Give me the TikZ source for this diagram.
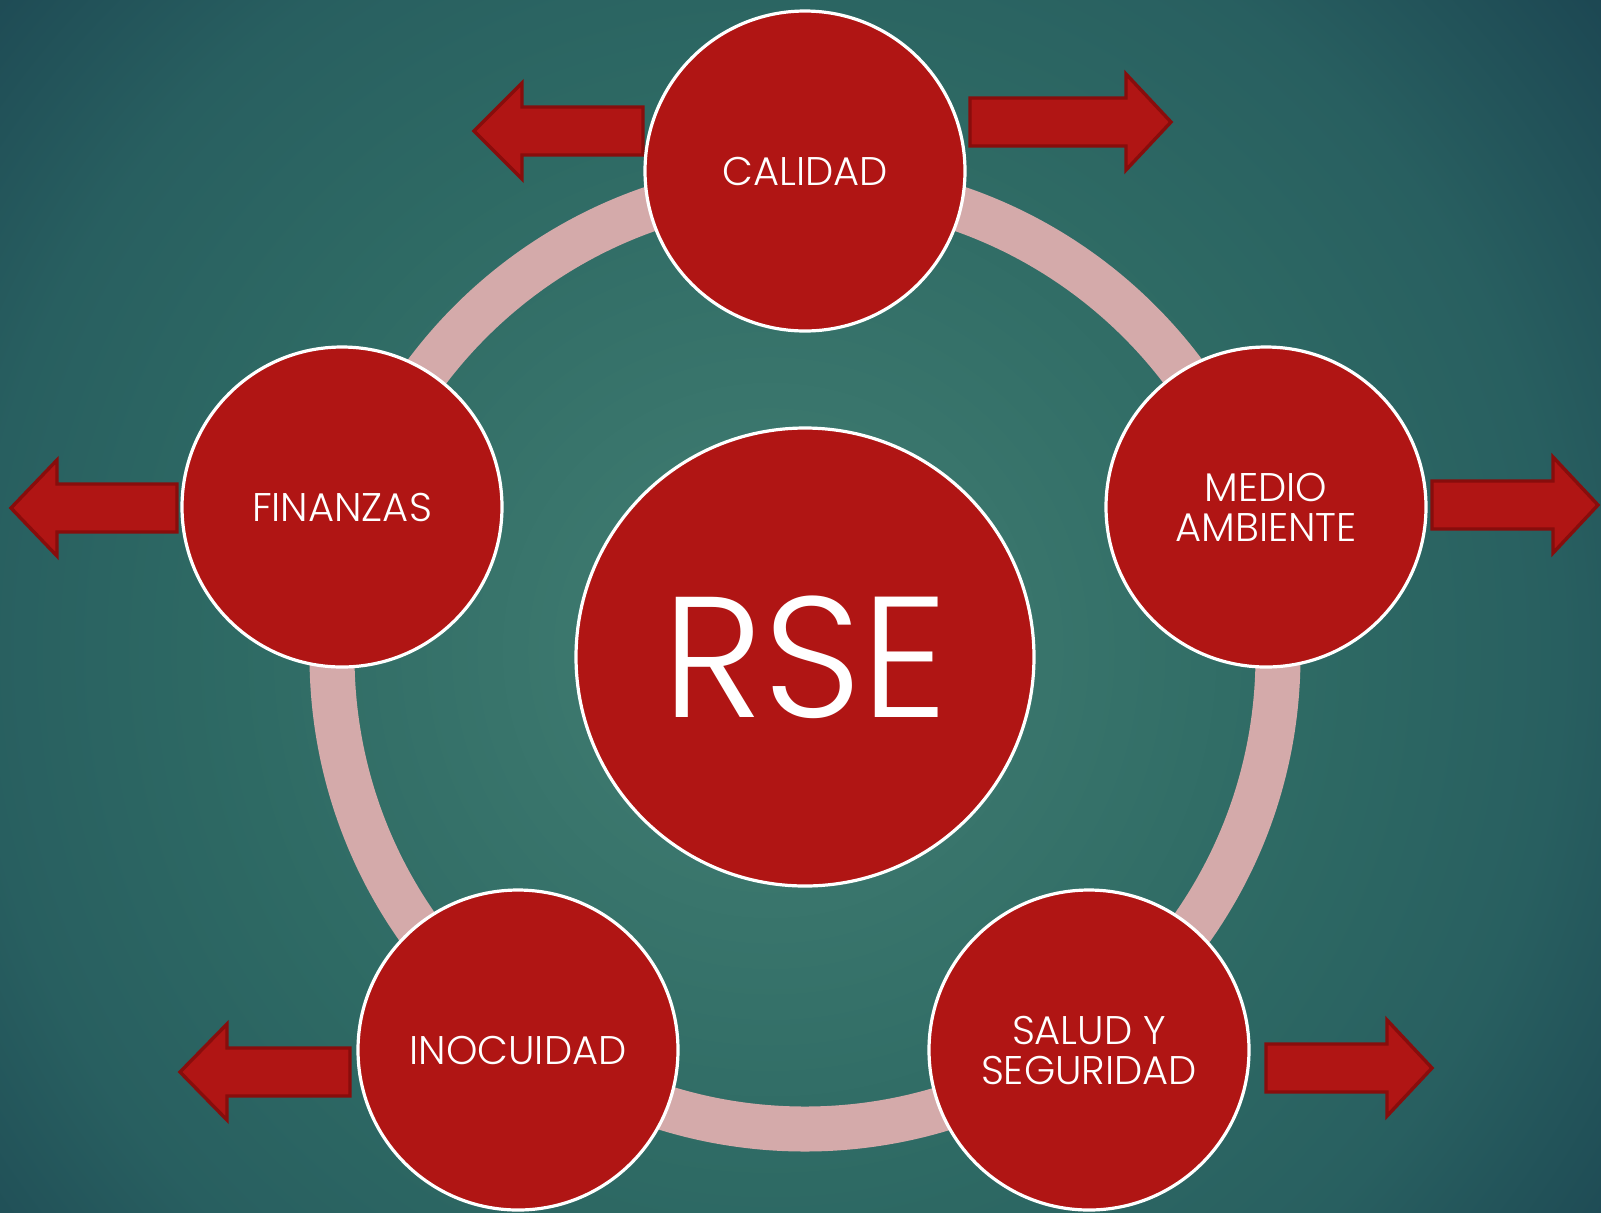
\documentclass[tikz,border=0pt]{standalone}
\usepackage{fontspec}
\setmainfont{Poppins}[UprightFont=* Light]
\definecolor{bgin}{RGB}{67,127,115}
\definecolor{bgmid}{RGB}{46,106,100}
\definecolor{bgmid2}{RGB}{40,95,96}
\definecolor{bgout}{RGB}{28,70,82}
\definecolor{ringc}{RGB}{212,170,170}
\definecolor{redf}{RGB}{176,21,20}
\definecolor{redd}{RGB}{136,13,12}
\pgfdeclareradialshading{bgshade}{\pgfpoint{0bp}{0bp}}{color(0bp)=(bgin); color(12.5bp)=(bgmid); color(18.5bp)=(bgmid2); color(25bp)=(bgout); color(50bp)=(bgout)}
\tikzset{
  bubble/.style={circle, fill=redf, draw=white, line width=1.6pt, minimum size=320*0.5pt, inner sep=0pt, text=white, align=center, font=\fontsize{20}{23}\selectfont},
  bigbubble/.style={circle, fill=redf, draw=white, line width=1.6pt, minimum size=458*0.5pt, inner sep=0pt, text=white, font=\fontsize{86}{88}\selectfont},
  blockarrow/.style={fill=redf, draw=redd, line width=1.7pt, line join=miter},
}
% #1 shaft start x, #2 head base x, #3 tip x, #4 center y, #5 shaft half, #6 head half
\newcommand{\blockarr}[6]{%
  \draw[blockarrow] (#1,#4-#5) -- (#2,#4-#5) -- (#2,#4-#6) -- (#3,#4) -- (#2,#4+#6) -- (#2,#4+#5) -- (#1,#4+#5) -- cycle;}
\begin{document}
\begin{tikzpicture}[x=0.5pt,y=-0.5pt]
\useasboundingbox (0,0) rectangle (1601,1212);
\begin{scope}
\clip (0,0) rectangle (1601,1212);
\shade[shading=bgshade] (770,650) circle[radius=1070];
\end{scope}
% ring
\coordinate (ctr) at (805,656);
\draw[ringc, line width=22.5pt] (ctr) circle[radius=473];
% arrows
\blockarr{643}{522}{474}{131}{24}{48}
\blockarr{970}{1126}{1171}{122}{24}{48}
\blockarr{1432}{1553}{1598}{505}{24}{48}
\blockarr{177}{57}{11}{508}{24}{48}
\blockarr{350}{227}{180}{1072}{24}{48}
\blockarr{1266}{1387}{1432}{1068}{24}{48}
% nodes
\node[bigbubble] (rse) at (805,657) {RSE};
\node[bubble] (cal) at (805,171) {CALIDAD};
\node[bubble] (med) at (1266,507) {MEDIO\\[-3pt]AMBIENTE};
\node[bubble] (sal) at (1089,1050) {SALUD Y\\[-3pt]SEGURIDAD};
\node[bubble] (ino) at (518,1050) {INOCUIDAD};
\node[bubble] (fin) at (342,507) {FINANZAS};
\end{tikzpicture}
\end{document}
